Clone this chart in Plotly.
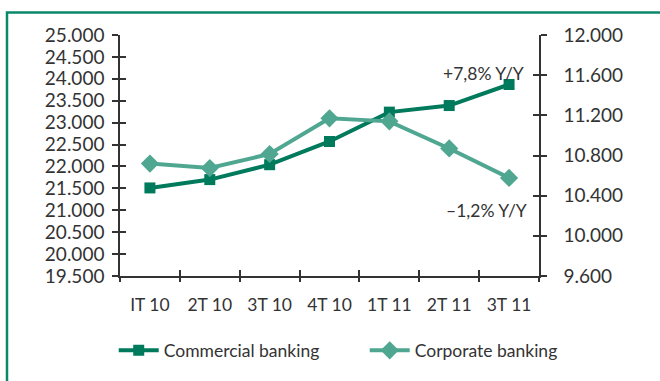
import plotly.graph_objects as go

quarters = ["IT 10", "2T 10", "3T 10", "4T 10", "1T 11", "2T 11", "3T 11"]
commercial = [21510, 21700, 22040, 22570, 23240, 23390, 23870]
corporate = [10720, 10675, 10815, 11170, 11140, 10870, 10577]
left_ticks = list(range(19500, 25001, 500))
right_ticks = list(range(9600, 12001, 400))
notes = ["+7,8% Y/Y", "\u20131,2% Y/Y"]

C_COM = "#007A5C"
C_CORP = "#4FA791"
FRAME = "#0B8769"
TXT = "#333333"
FONT = "Lato"
FS = 17.5
FSY = 19

W, H = 660, 381
ML, MR, MT, MB = 120, 121, 35, 100
pw = W - ML - MR
ph = H - MT - MB

fig = go.Figure()
fig.add_trace(go.Scatter(
    x=quarters, y=commercial, name="Commercial banking", mode="lines+markers",
    line=dict(color=C_COM, width=4), marker=dict(symbol="square", size=11, color=C_COM),
    xaxis="x", yaxis="y"))
fig.add_trace(go.Scatter(
    x=quarters, y=corporate, name="Corporate banking", mode="lines+markers",
    line=dict(color=C_CORP, width=4), marker=dict(symbol="diamond", size=14, color=C_CORP),
    xaxis="x", yaxis="y2"))
# empty helper traces so the overlay tick-only axes are drawn
fig.add_trace(go.Scatter(x=[None], y=[None], xaxis="x2", yaxis="y3", showlegend=False,
                         hoverinfo="skip", mode="markers"))
fig.add_trace(go.Scatter(x=[None], y=[None], xaxis="x", yaxis="y4", showlegend=False,
                         hoverinfo="skip", mode="markers"))

n = len(quarters)
bounds = [i - 0.5 for i in range(n + 1)]

axfont = dict(family=FONT, size=FS, color=TXT)
yfont = dict(family=FONT, size=FSY, color=TXT)
fig.update_layout(
    width=W, height=H, autosize=False,
    margin=dict(l=ML, r=MR, t=MT, b=MB, pad=0),
    paper_bgcolor="white", plot_bgcolor="white",
    separators=",.",
    font=axfont,
    showlegend=True,
    legend=dict(orientation="h", x=-0.015, xanchor="left", y=(281 - 357) / ph, yanchor="middle",
                font=dict(family=FONT, size=FS, color=TXT), entrywidth=196, entrywidthmode="pixels",
                itemwidth=40, bgcolor="rgba(0,0,0,0)"),
    xaxis=dict(type="category", categoryarray=quarters, range=[-0.5, n - 0.5],
               showline=True, linecolor=TXT, linewidth=1.5, ticks="outside", tickson="boundaries",
               ticklen=4, tickcolor=TXT, tickwidth=1.5, showgrid=False, zeroline=False,
               tickfont=axfont, ticklabelstandoff=12, fixedrange=True),
    xaxis2=dict(overlaying="x", range=[-0.5, n - 0.5], tickmode="array", tickvals=bounds,
                showticklabels=False, ticks="inside", ticklen=6, tickcolor=TXT, tickwidth=1.5,
                showline=False, showgrid=False, zeroline=False, side="bottom", fixedrange=True),
    yaxis=dict(range=[left_ticks[0], left_ticks[-1]], tickmode="array", tickvals=left_ticks,
               tickformat=",.0f", showline=True, linecolor=TXT, linewidth=1.5,
               ticks="outside", ticklen=6, tickcolor=TXT, tickwidth=1.5, showgrid=False,
               zeroline=False, tickfont=yfont, ticklabelstandoff=4, fixedrange=True),
    yaxis3=dict(overlaying="y", side="left", range=[left_ticks[0], left_ticks[-1]],
                tickmode="array", tickvals=left_ticks, showticklabels=False, ticks="inside",
                ticklen=6, tickcolor=TXT, tickwidth=1.5, showline=False, showgrid=False,
                zeroline=False, fixedrange=True),
    yaxis2=dict(overlaying="y", side="right", range=[right_ticks[0], right_ticks[-1]],
                tickmode="array", tickvals=right_ticks, tickformat=",.0f",
                showline=True, linecolor=TXT, linewidth=1.5, ticks="outside", ticklen=6,
                tickcolor=TXT, tickwidth=1.5, showgrid=False, zeroline=False, tickfont=yfont,
                ticklabelstandoff=13, fixedrange=True),
    yaxis4=dict(overlaying="y", side="right", range=[right_ticks[0], right_ticks[-1]],
                tickmode="array", tickvals=right_ticks, showticklabels=False, ticks="inside",
                ticklen=6, tickcolor=TXT, tickwidth=1.5, showline=False, showgrid=False,
                zeroline=False, fixedrange=True),
)

fig.add_annotation(x=quarters[-1], y=commercial[-1], xref="x", yref="y", text=notes[0],
                   showarrow=False, xanchor="right", yanchor="middle", xshift=17, yshift=11,
                   font=dict(family=FONT, size=FS, color=TXT))
fig.add_annotation(x=quarters[-1], y=corporate[-1], xref="x", yref="y2", text=notes[1],
                   showarrow=False, xanchor="right", yanchor="middle", xshift=20, yshift=-33,
                   font=dict(family=FONT, size=FS, color=TXT))

# green frame around chart (open to the right/bottom as in the crop)
fig.add_shape(type="rect", xref="paper", yref="paper",
              x0=(7 - ML) / pw, x1=(W + 20 - ML) / pw,
              y0=-(H + 20 - MT - ph) / ph, y1=(ph + MT - 12) / ph,
              line=dict(color=FRAME, width=2.5), fillcolor="rgba(0,0,0,0)", layer="below")

fig.write_html("out.html")
